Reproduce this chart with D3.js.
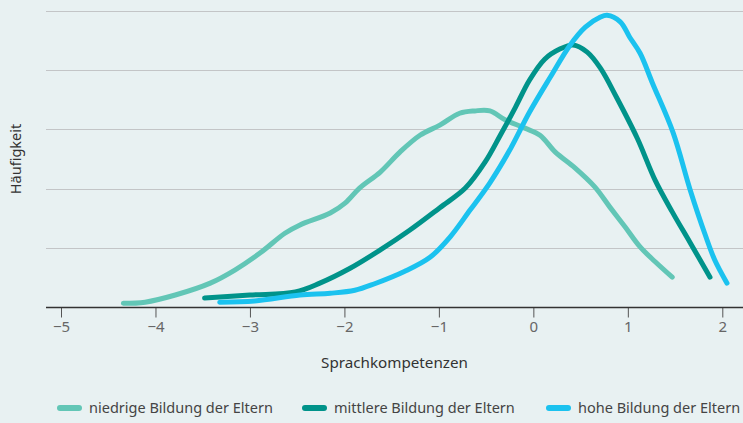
<!DOCTYPE html>
<html><head><meta charset="utf-8">
<script src="https://cdn.jsdelivr.net/npm/d3@7"></script>
<style>
html,body{margin:0;padding:0;background:#e8f1f2;}
svg{display:block;font-family:"Noto Sans","Open Sans",sans-serif;}
</style></head>
<body>
<svg id="c" width="743" height="423"></svg>
<script>
const xTicks = [-5,-4,-3,-2,-1,0,1,2];
const yGrid = [1,2,3,4,5];
const seriesNames = ["niedrige Bildung der Eltern","mittlere Bildung der Eltern","hohe Bildung der Eltern"];
const seriesColors = ["#62c6b6","#00938a","#1bc2ef"];

const niedrige = [[-4.34,0.07],[-4.11,0.09],[-3.79,0.21],[-3.42,0.41],[-3.16,0.63],[-2.89,0.92],[-2.63,1.25],[-2.47,1.39],[-2.15,1.59],[-1.99,1.76],[-1.84,2.01],[-1.62,2.28],[-1.41,2.62],[-1.20,2.90],[-0.99,3.07],[-0.78,3.27],[-0.62,3.31],[-0.46,3.31],[-0.30,3.16],[-0.09,3.02],[0.07,2.90],[0.23,2.62],[0.44,2.35],[0.65,2.03],[0.81,1.69],[0.97,1.36],[1.13,1.02],[1.29,0.77],[1.47,0.51]];
const mittlere = [[-3.48,0.16],[-3.0,0.21],[-2.52,0.26],[-2.26,0.41],[-1.94,0.66],[-1.62,0.97],[-1.31,1.30],[-0.99,1.68],[-0.72,2.01],[-0.51,2.45],[-0.35,2.90],[-0.19,3.37],[-0.04,3.83],[0.12,4.18],[0.28,4.35],[0.42,4.42],[0.57,4.30],[0.71,4.03],[0.88,3.54],[1.10,2.85],[1.29,2.14],[1.47,1.61],[1.66,1.09],[1.87,0.51]];
const hohe = [[-3.32,0.09],[-2.95,0.11],[-2.47,0.21],[-2.15,0.24],[-1.89,0.29],[-1.68,0.40],[-1.36,0.61],[-1.09,0.85],[-0.88,1.19],[-0.67,1.64],[-0.46,2.10],[-0.25,2.65],[-0.04,3.29],[0.18,3.88],[0.39,4.42],[0.55,4.72],[0.71,4.89],[0.78,4.92],[0.92,4.81],[1.02,4.55],[1.13,4.28],[1.26,3.78],[1.48,2.94],[1.66,1.98],[1.82,1.22],[1.92,0.80],[2.05,0.41]];
const seriesData = [niedrige, mittlere, hohe];

const svg = d3.select("#c");
const x = d3.scaleLinear().domain([-5,2]).range([61,722.3]);
const y = d3.scaleLinear().domain([0,5]).range([307.5,10.5]);
const left = 46, right = 743;

svg.append("g").selectAll("line").data(yGrid).join("line")
  .attr("x1",left).attr("x2",right)
  .attr("y1",d=>Math.round(y(d))+0.5).attr("y2",d=>Math.round(y(d))+0.5)
  .attr("stroke","#c3c5c7").attr("stroke-width",1);

const line = d3.line().x(d=>x(d[0])).y(d=>y(d[1])).curve(d3.curveCatmullRom.alpha(0.5));
svg.append("g").selectAll("path").data(seriesData).join("path")
  .attr("d",line).attr("fill","none")
  .attr("stroke",(d,i)=>seriesColors[i]).attr("stroke-width",5)
  .attr("stroke-linecap","round").attr("stroke-linejoin","round");

const ax = svg.append("g").attr("transform",`translate(0,${y(0)})`)
  .call(d3.axisBottom(x).tickValues(xTicks).tickSize(10).tickPadding(4)
    .tickFormat(d=>d3.format("")(d).replace("-","\u2212")));
ax.select(".domain").remove();
ax.append("line").attr("x1",left).attr("x2",right).attr("stroke","#333").attr("stroke-width",1.5);
ax.selectAll(".tick line").attr("stroke","#555").attr("stroke-width",1);
ax.selectAll(".tick text").attr("fill","#666").attr("font-size",15).attr("font-family","'Noto Sans', sans-serif");

svg.append("text").attr("x",(left+right)/2).attr("y",368).attr("text-anchor","middle")
  .attr("font-size",15.2).attr("fill","#333").text("Sprachkompetenzen");
svg.append("text").attr("transform",`translate(21,${(y(0)+y(5))/2}) rotate(-90)`)
  .attr("text-anchor","middle").attr("font-size",14.5).attr("fill","#333").text("Häufigkeit");

const legX = [57,302,546];
const lg = svg.append("g").selectAll("g").data(seriesNames).join("g")
  .attr("transform",(d,i)=>`translate(${legX[i]},408)`);
lg.append("line").attr("x1",3).attr("x2",22).attr("y1",0).attr("y2",0)
  .attr("stroke",(d,i)=>seriesColors[i]).attr("stroke-width",6).attr("stroke-linecap","round");
lg.append("text").attr("x",32).attr("y",5).attr("font-size",14.5).attr("fill","#444").text(d=>d);
</script>
</body></html>
